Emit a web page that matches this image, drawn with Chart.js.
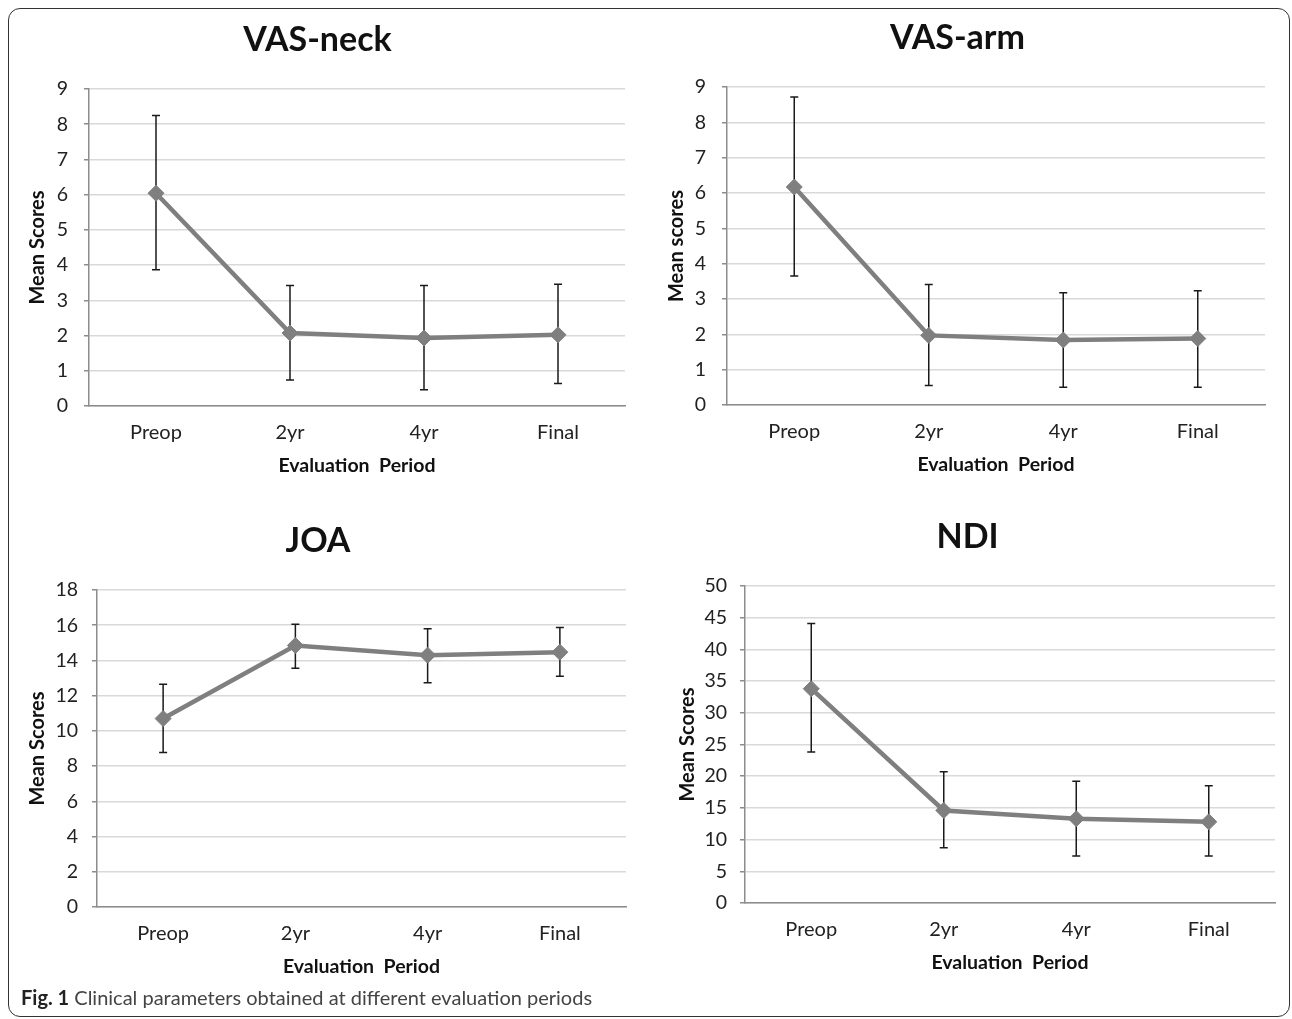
<!DOCTYPE html>
<html>
<head>
<meta charset="utf-8">
<script src="https://cdn.jsdelivr.net/npm/chart.js@4.4.0/dist/chart.umd.min.js"></script>
<style>
  body { margin: 0; background: #fff; width: 1292px; height: 1019px; position: relative; overflow: hidden; font-family: Lato, sans-serif; }
  .frame { position: absolute; left: 8px; top: 8px; width: 1282px; height: 1009px; border: 1.5px solid #333; border-radius: 12px; box-sizing: border-box; }
  canvas { position: absolute; }
  .caption { position: absolute; left: 21px; top: 985px; font-size: 20px; color: #444; }
  .caption b { color: #222; }
</style>
</head>
<body>
<div class="frame"></div>
<canvas id="neck" width="630" height="495" style="left:10px;top:5px"></canvas>
<canvas id="arm" width="630" height="496" style="left:650px;top:3px"></canvas>
<canvas id="joa" width="630" height="495" style="left:10px;top:506px"></canvas>
<canvas id="ndi" width="625" height="495" style="left:660px;top:502px"></canvas>
<div class="caption"><b>Fig. 1</b> Clinical parameters obtained at different evaluation periods</div>
<script>
const periods = ['Preop', '2yr', '4yr', 'Final'];

// VAS-neck
const neckMean = [6.04, 2.07, 1.93, 2.02];
const neckLow = [3.87, 0.74, 0.46, 0.64];
const neckHigh = [8.25, 3.42, 3.42, 3.46];
const neckTicks = [0, 9, 1];

// VAS-arm
const armMean = [6.17, 1.97, 1.84, 1.88];
const armLow = [3.65, 0.55, 0.5, 0.5];
const armHigh = [8.72, 3.41, 3.18, 3.23];
const armTicks = [0, 9, 1];

// JOA
const joaMean = [10.7, 14.85, 14.3, 14.47];
const joaLow = [8.77, 13.56, 12.73, 13.1];
const joaHigh = [12.65, 16.06, 15.8, 15.87];
const joaTicks = [0, 18, 2];

// NDI
const ndiMean = [33.8, 14.6, 13.3, 12.8];
const ndiLow = [23.8, 8.7, 7.4, 7.4];
const ndiHigh = [44.1, 20.7, 19.2, 18.5];
const ndiTicks = [0, 50, 5];

const errorBars = {
    id: 'errorBars',
    beforeDatasetsDraw(chart, args, opts) {
        const { ctx, scales: { x, y } } = chart;
        ctx.save();
        ctx.strokeStyle = '#1a1a1a';
        ctx.lineWidth = 1.5;
        opts.low.forEach((lo, i) => {
            const px = x.getPixelForValue(i);
            const top = y.getPixelForValue(opts.high[i]);
            const bot = y.getPixelForValue(lo);
            ctx.beginPath();
            ctx.moveTo(px, top); ctx.lineTo(px, bot);
            ctx.moveTo(px - 4, top); ctx.lineTo(px + 4, top);
            ctx.moveTo(px - 4, bot); ctx.lineTo(px + 4, bot);
            ctx.stroke();
        });
        ctx.restore();
    }
};

function makeChart(id, title, yTitle, mean, low, high, tickRange, box) {
    new Chart(document.getElementById(id), {
        type: 'line',
        data: {
            labels: periods,
            datasets: [{
                data: mean,
                borderColor: '#7f7f7f',
                borderWidth: 4.5,
                tension: 0,
                pointStyle: 'rectRot',
                pointRadius: 8,
                pointBackgroundColor: '#7f7f7f',
                pointBorderColor: '#7f7f7f',
                pointBorderWidth: 1
            }]
        },
        options: {
            responsive: false,
            animation: false,
            devicePixelRatio: 1,
            layout: { padding: { left: 0, right: box.right, top: 0, bottom: 0 } },
            plugins: {
                legend: { display: false },
                tooltip: { enabled: false },
                title: {
                    display: true,
                    text: title,
                    color: '#111',
                    font: { family: 'Lato', size: 34, weight: 'bold' },
                    padding: { top: 15, bottom: 28.2 }
                },
                errorBars: { low: low, high: high }
            },
            scales: {
                x: {
                    offset: true,
                    grid: { display: false, drawTicks: false },
                    border: { display: true, color: '#8c8c8c', width: 1.5 },
                    ticks: { color: '#222', font: { family: 'Lato', size: 20 }, padding: 15 },
                    title: {
                        display: true,
                        text: 'Evaluation  Period',
                        color: '#111',
                        font: { family: 'Lato', size: 19.5, weight: 'bold' },
                        padding: { top: 0, bottom: 22.3 }
                    },
                    afterFit: s => { s.height = 94; }
                },
                y: {
                    min: tickRange[0],
                    max: tickRange[1],
                    ticks: { stepSize: tickRange[2], color: '#222', font: { family: 'Lato', size: 19.5 }, padding: box.pad },
                    grid: { color: '#d9d9d9', lineWidth: 1.5, tickLength: 5, tickColor: '#8c8c8c' },
                    border: { color: '#8c8c8c', width: 1.5 },
                    title: {
                        display: true,
                        text: yTitle,
                        color: '#111',
                        font: { family: 'Lato', size: 20, weight: 'bold' },
                        padding: { top: box.yTitle - 12, bottom: 0 }
                    },
                    afterFit: s => { s.width = box.axis; }
                }
            }
        },
        plugins: [errorBars]
    });
}

makeChart('neck', 'VAS-neck', 'Mean Scores', neckMean, neckLow, neckHigh, neckTicks, { axis: 79, yTitle: 28, right: 15, pad: 16 });
makeChart('arm', 'VAS-arm', 'Mean scores', armMean, armLow, armHigh, armTicks, { axis: 77, yTitle: 27, right: 15, pad: 16 });
makeChart('joa', 'JOA', 'Mean Scores', joaMean, joaLow, joaHigh, joaTicks, { axis: 87, yTitle: 28, right: 14, pad: 14 });
makeChart('ndi', 'NDI', 'Mean Scores', ndiMean, ndiLow, ndiHigh, ndiTicks, { axis: 85, yTitle: 28, right: 10, pad: 13 });
</script>
</body>
</html>
